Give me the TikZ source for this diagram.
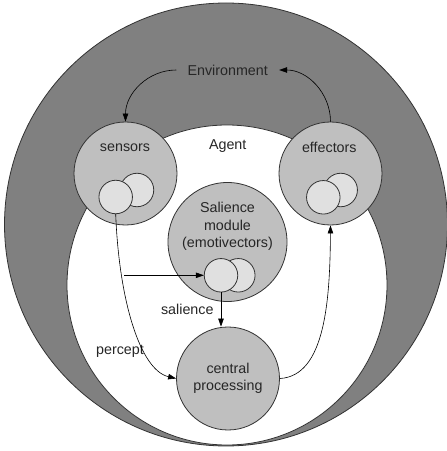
\documentclass[tikz,border=0pt]{standalone}
\usepackage{fontspec}
\setmainfont{Liberation Sans}
\usetikzlibrary{arrows.meta}
\tikzstyle{part} = [circle, draw = black!80, fill = black!25, line width = 0.8pt, inner sep = 0pt, minimum size = 103pt]
\tikzstyle{vec} = [circle, draw = black!80, fill = black!12, line width = 0.8pt, inner sep = 0pt, minimum size = 33.5pt]
\tikzstyle{word} = [text = black!85, font = \fontsize{14.3}{17.5}\selectfont, align = center]

\begin{document}
\begin{tikzpicture}[x = 1pt, y = 1pt, >={Triangle[length = 8pt, width = 5.5pt]}, line width = 0.6pt]
        \useasboundingbox (0,0) rectangle (447,451);
        \filldraw [fill = gray, draw = black!80, line width = 0.8pt] (226,226.5) circle (221.5pt);
        \filldraw [fill = white, draw = black!80, line width = 0.8pt] (227,166) circle (160pt);
        \node (sensors) at (125.5,277.5) [part] {};
        \node (effectors) at (330.5,277.5) [part] {};
        \node (salience) at (227.5,209) [part, minimum size = 119pt] {};
        \node (central) at (228,72.5) [part, word] {central\\processing};
        \node (sensorsb) at (137,261) [vec] {};
        \node (sensorsa) at (115.7,254) [vec] {};
        \node (effectorsb) at (340.7,261) [vec] {};
        \node (effectorsa) at (323.3,253.7) [vec] {};
        \node (salienceb) at (238.3,175.7) [vec] {};
        \node (saliencea) at (221,175.7) [vec] {};
        \node (env) at (227.7,381) [word, inner xsep = 11pt] {Environment};
        \node (agent) at (227.7,305.3) [word] {Agent};
        \node (sensorslabel) at (125,303.3) [word] {sensors};
        \node (effectorslabel) at (329.3,303.3) [word] {effectors};
        \node (saliencelabel) at (227.5,224.5) [word] {Salience\\module\\(emotivectors)};
        \node (percept) at (120,100) [word] {percept};
        \node (saliencetext) at (187.3,141.7) [word] {salience};
        \coordinate (branch) at (124,175.7);
        \draw [->] (env.west) to [out = 180, in = 90] (sensors.north);
        \draw [->] (effectors.north) to [out = 90, in = 0] (env.east);
        \draw [->] (sensorsa.south) .. controls (119,151) and (140,81) .. (central.west);
        \draw [->] (branch) -- (saliencea);
        \draw [->] (saliencea.south) -- (saliencea.south |- central.north);
        \draw [->] (central.east) .. controls (325,75) and (330,150) .. (effectors.south);
    \end{tikzpicture}
\end{document}
